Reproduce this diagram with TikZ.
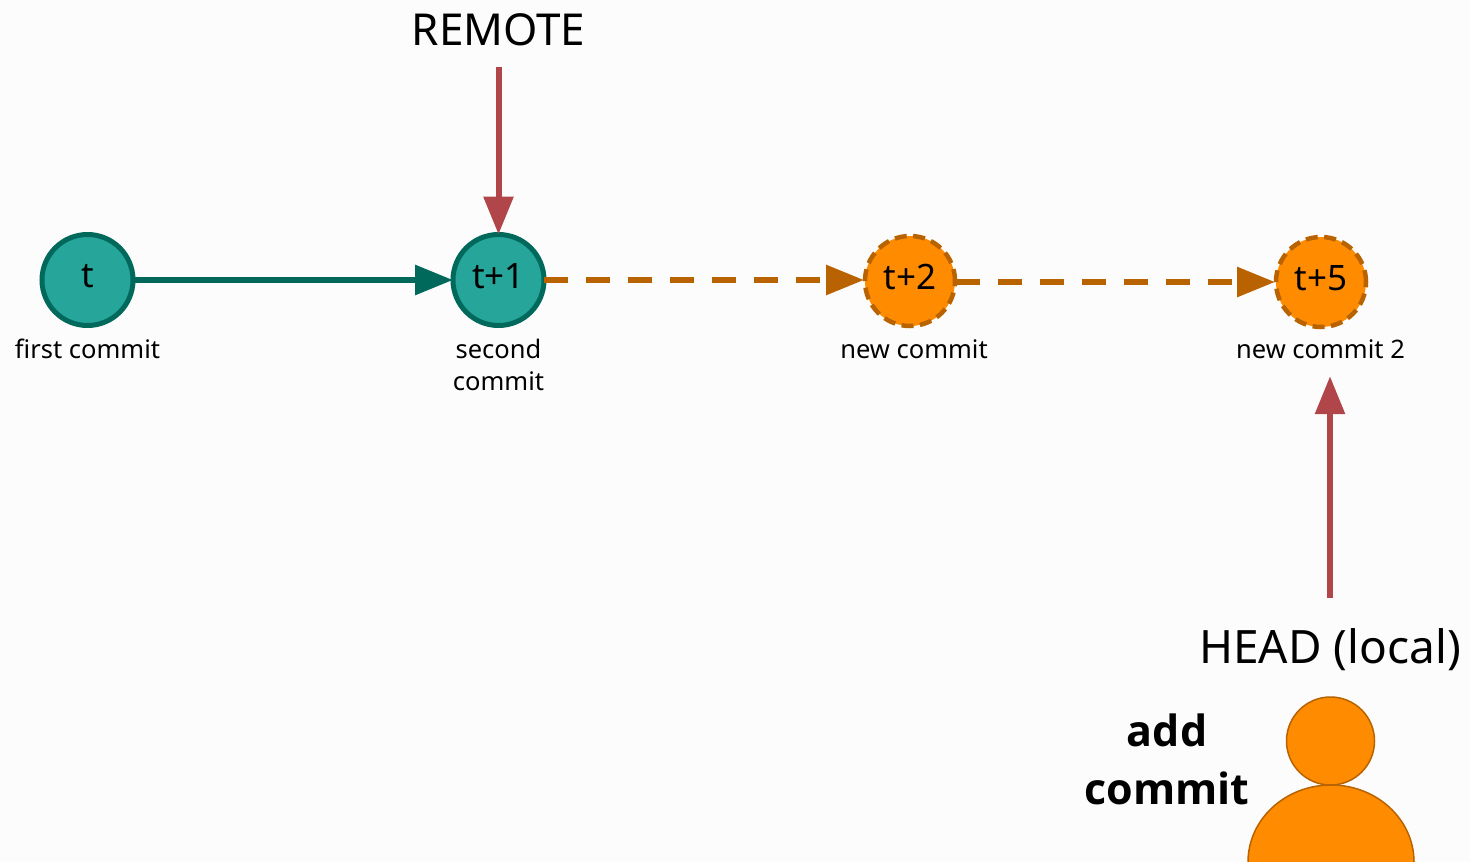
\documentclass[tikz,border=0pt]{standalone}
\usepackage{fontspec}
\setmainfont{Noto Sans}
\newfontfamily\negrita{Open Sans}
\usetikzlibrary{arrows.meta}
\definecolor{fondo}{HTML}{FCFCFC}
\definecolor{tealfill}{HTML}{26A69A}
\definecolor{tealline}{HTML}{00695C}
\definecolor{orangefill}{HTML}{FF8C00}
\definecolor{orangeline}{HTML}{B86200}
\definecolor{redline}{HTML}{B0464A}
\tikzstyle{commit} = [circle, draw=tealline, fill=tealfill, line width=5pt, minimum size=91pt, inner sep=0pt, outer sep=0pt, text depth=8pt, font=\fontsize{35}{40}\selectfont]
\tikzstyle{newcommit} = [commit, draw=orangeline, fill=orangefill, line width=4.5pt, minimum size=90pt, outer sep=1pt, dash pattern=on 12pt off 6.5pt]
\tikzstyle{etiqueta} = [align=center, inner sep=0pt, font=\fontsize{25.5}{32}\selectfont]
\tikzstyle{titulo} = [inner sep=0pt, outer sep=0pt, font=\fontsize{44}{58}\selectfont]
\tikzstyle{flecha} = [line width=6pt, -{Triangle[length=38pt,width=29pt]}]
\tikzstyle{nuevaflecha} = [flecha, orangeline, dash pattern=on 24pt off 18pt]
\tikzstyle{person} = [draw=orangeline, fill=orangefill, line width=1.5pt]
\begin{document}
\begin{tikzpicture}[x=1pt,y=-1pt]
	\useasboundingbox[fill=fondo] (0,0) rectangle (1470,862);
	\node[commit](c0) at (87.5,280) {t};
	\node[commit](c1) at (498.5,280) {t+1};
	\node[newcommit](c2) at (910,281) {t+2};
	\node[newcommit](c5) at (1321,282) {t+5};
	\node[etiqueta](l0) at (87.5,349) {first commit};
	\node[etiqueta](l1) at (498.5,365) {second\\commit};
	\node[etiqueta](l2) at (914,349) {new commit};
	\node[etiqueta, minimum height=54pt](l5) at (1320.5,349) {new commit 2};
	\node[titulo, minimum height=74pt](remote) at (498.5,30) {REMOTE};
	\node[titulo, minimum height=104pt, font=\fontsize{46}{58}\selectfont](head) at (1330,650) {HEAD (local)};
	\node[titulo, align=center, font=\fontsize{43}{58}\selectfont\negrita\bfseries](add) at (1167,759) {add\\commit};
	\draw[flecha, tealline] (c0) -- (c1);
	\draw[nuevaflecha] (c1.east) -- (c1.east -| c2.west);
	\draw[nuevaflecha] (c2.east |- c5) -- (c5.west);
	\draw[flecha, redline] (remote) -- (c1);
	\draw[flecha, redline] (head.north) -- (head.north |- l5.south);
	\draw[person] (1248,862) arc[start angle=180, end angle=360, x radius=83, y radius=77];
	\node[person, circle, minimum size=88pt, inner sep=0pt](cabeza) at (1330.5,741) {};
\end{tikzpicture}
\end{document}
